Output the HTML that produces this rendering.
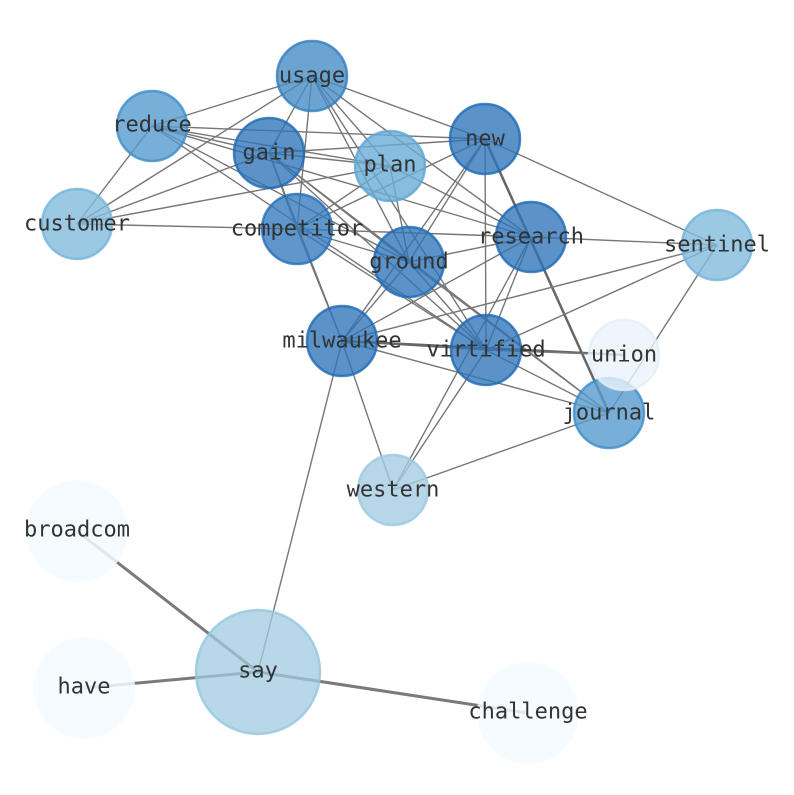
<!DOCTYPE html>
<html><head><meta charset="utf-8"><style>
html,body{margin:0;padding:0;background:#fff;}
svg text{font-family:"DejaVu Sans Mono","Liberation Mono",monospace;font-size:22px;fill:#333;text-anchor:middle;dominant-baseline:central;}
</style></head><body>
<svg width="794" height="790" viewBox="0 0 794 790" xmlns="http://www.w3.org/2000/svg">
<g stroke="#777" stroke-width="1.4" fill="none">
<line x1="312" y1="76" x2="152" y2="126"/><line x1="312" y1="76" x2="77" y2="224"/><line x1="312" y1="76" x2="269" y2="153"/>
<line x1="312" y1="76" x2="297" y2="229"/><line x1="312" y1="76" x2="409" y2="262"/><line x1="312" y1="76" x2="486" y2="350"/>
<line x1="312" y1="76" x2="485" y2="139"/><line x1="312" y1="76" x2="531" y2="237"/><line x1="312" y1="76" x2="390" y2="166"/>
<line x1="152" y1="126" x2="77" y2="224"/><line x1="152" y1="126" x2="485" y2="139"/><line x1="152" y1="126" x2="390" y2="166"/>
<line x1="152" y1="126" x2="269" y2="153"/><line x1="152" y1="126" x2="409" y2="262"/><line x1="152" y1="126" x2="486" y2="350"/>
<line x1="152" y1="126" x2="531" y2="237"/>
<line x1="269" y1="153" x2="77" y2="224"/><line x1="269" y1="153" x2="485" y2="139"/><line x1="269" y1="153" x2="390" y2="166"/>
<line x1="269" y1="153" x2="297" y2="229"/><line x1="269" y1="153" x2="409" y2="262"/><line x1="269" y1="153" x2="486" y2="350"/>
<line x1="269" y1="153" x2="342" y2="341"/><line x1="269" y1="153" x2="609" y2="413"/>
<line x1="77" y1="224" x2="390" y2="166"/><line x1="77" y1="224" x2="297" y2="229"/>
<line x1="390" y1="166" x2="409" y2="262"/><line x1="390" y1="166" x2="297" y2="229"/><line x1="390" y1="166" x2="531" y2="237"/>
<line x1="485" y1="139" x2="342" y2="341"/><line x1="485" y1="139" x2="409" y2="262"/><line x1="485" y1="139" x2="486" y2="350"/>
<line x1="485" y1="139" x2="717" y2="245"/><line x1="485" y1="139" x2="297" y2="229"/>
<line x1="485" y1="139" x2="609" y2="413" stroke-width="2.5" stroke="#666"/>
<line x1="531" y1="237" x2="297" y2="229"/><line x1="531" y1="237" x2="409" y2="262"/><line x1="531" y1="237" x2="342" y2="341"/>
<line x1="531" y1="237" x2="486" y2="350"/><line x1="531" y1="237" x2="393" y2="490"/><line x1="531" y1="237" x2="717" y2="245"/>
<line x1="717" y1="245" x2="342" y2="341"/><line x1="717" y1="245" x2="486" y2="350"/><line x1="717" y1="245" x2="609" y2="413"/>
<line x1="409" y1="262" x2="297" y2="229"/><line x1="409" y1="262" x2="342" y2="341"/><line x1="409" y1="262" x2="486" y2="350"/>
<line x1="409" y1="262" x2="609" y2="413"/>
<line x1="297" y1="229" x2="342" y2="341"/><line x1="297" y1="229" x2="486" y2="350"/>
<line x1="342" y1="341" x2="486" y2="350"/><line x1="342" y1="341" x2="624" y2="355" stroke-width="2.5" stroke="#666"/>
<line x1="342" y1="341" x2="609" y2="413"/><line x1="342" y1="341" x2="393" y2="490"/><line x1="342" y1="341" x2="258" y2="672"/>
<line x1="486" y1="350" x2="609" y2="413"/><line x1="486" y1="350" x2="393" y2="490"/><line x1="486" y1="350" x2="624" y2="355"/>
<line x1="609" y1="413" x2="393" y2="490"/>
<line x1="258" y1="672" x2="77" y2="531" stroke-width="3" stroke="#7a7a7a"/>
<line x1="258" y1="672" x2="84" y2="688" stroke-width="3" stroke="#7a7a7a"/>
<line x1="258" y1="672" x2="528" y2="713" stroke-width="3" stroke="#7a7a7a"/>
</g>
<g stroke-width="2.5">
<circle cx="312" cy="76" r="35" fill="rgba(70,140,198,0.8)" stroke="rgba(50,125,190,0.8)"/>
<circle cx="152" cy="126" r="35" fill="rgba(85,155,206,0.8)" stroke="rgba(60,140,200,0.8)"/>
<circle cx="269" cy="153" r="35" fill="rgba(45,115,185,0.78)" stroke="rgba(30,105,180,0.8)"/>
<circle cx="390" cy="166" r="35" fill="rgba(105,172,215,0.8)" stroke="rgba(95,165,212,0.8)"/>
<circle cx="485" cy="139" r="35" fill="rgba(45,115,185,0.78)" stroke="rgba(30,105,180,0.8)"/>
<circle cx="77" cy="224" r="35" fill="rgba(130,187,221,0.8)" stroke="rgba(115,180,218,0.8)"/>
<circle cx="297" cy="229" r="35" fill="rgba(50,120,188,0.78)" stroke="rgba(35,110,182,0.8)"/>
<circle cx="531" cy="237" r="35" fill="rgba(45,115,185,0.78)" stroke="rgba(30,105,180,0.8)"/>
<circle cx="717" cy="245" r="35" fill="rgba(130,187,221,0.8)" stroke="rgba(115,180,218,0.8)"/>
<circle cx="409" cy="262" r="35" fill="rgba(45,115,185,0.78)" stroke="rgba(30,105,180,0.8)"/>
<circle cx="342" cy="341" r="35" fill="rgba(45,115,185,0.78)" stroke="rgba(30,105,180,0.8)"/>
<circle cx="486" cy="350" r="35" fill="rgba(45,115,185,0.78)" stroke="rgba(30,105,180,0.8)"/>
<circle cx="609" cy="413" r="35" fill="rgba(85,155,206,0.8)" stroke="rgba(60,140,200,0.8)"/>
<circle cx="624" cy="355" r="35" fill="rgba(234,242,250,0.8)" stroke="rgba(228,238,248,0.8)"/>
<circle cx="393" cy="490" r="35" fill="rgba(165,205,226,0.8)" stroke="rgba(155,200,224,0.8)"/>
<circle cx="77" cy="531" r="51" fill="rgba(245,250,255,0.85)" stroke="none"/>
<circle cx="84" cy="688" r="51" fill="rgba(245,250,255,0.85)" stroke="none"/>
<circle cx="528" cy="713" r="51" fill="rgba(245,250,255,0.85)" stroke="none"/>
<circle cx="258" cy="672" r="62" fill="rgba(160,202,224,0.75)" stroke="rgba(150,198,222,0.8)"/>
</g>
<text x="312" y="76">usage</text>
<text x="152" y="125">reduce</text>
<text x="269" y="153">gain</text>
<text x="390" y="165">plan</text>
<text x="485" y="139">new</text>
<text x="77" y="224">customer</text>
<text x="297" y="229">competitor</text>
<text x="531" y="237">research</text>
<text x="717" y="245">sentinel</text>
<text x="409" y="262">ground</text>
<text x="342" y="341">milwaukee</text>
<text x="486" y="350">virtified</text>
<text x="624" y="355">union</text>
<text x="609" y="413">journal</text>
<text x="393" y="490">western</text>
<text x="77" y="530">broadcom</text>
<text x="84" y="687">have</text>
<text x="258" y="671">say</text>
<text x="528" y="712">challenge</text>
</svg>
</body></html>
